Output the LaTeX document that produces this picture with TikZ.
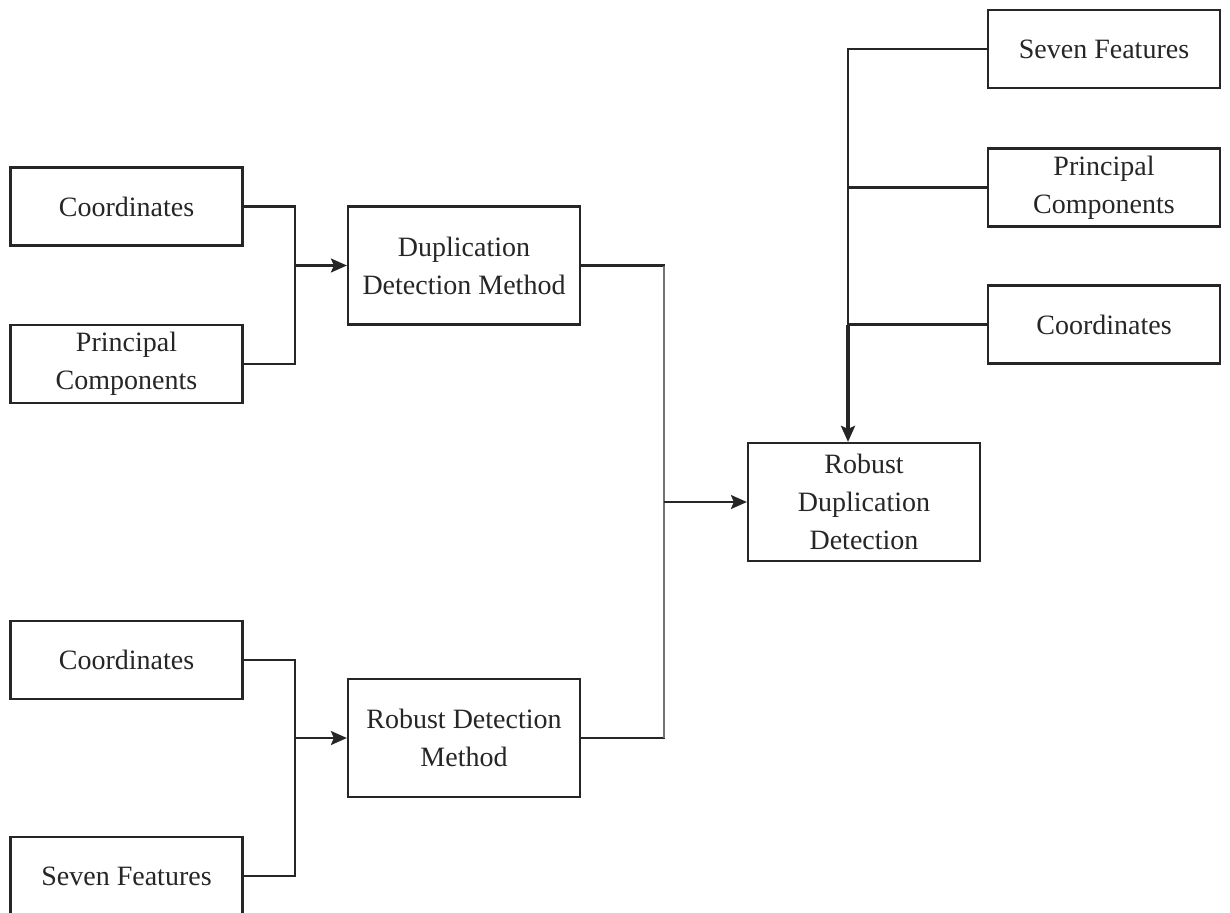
\documentclass[tikz,border=0pt]{standalone}
\usepackage{fontspec}
\setmainfont{Liberation Serif}
\usetikzlibrary{arrows.meta}
\begin{document}
\begin{tikzpicture}[x=0.5pt,y=-0.5pt,
  box/.style={draw=black!85,line width=1.1pt,fill=white,align=center,inner sep=0pt,
    text=black!85,font=\fontsize{14pt}{19pt}\selectfont},
  sbox/.style={box,minimum width=116pt,minimum height=39pt},
  bbox/.style={box,minimum width=116pt,minimum height=59pt},
  wire/.style={draw=black!85,line width=1.1pt},
  arr/.style={wire,-{Stealth[length=8pt,width=7pt,inset=1.5pt]}}]
\useasboundingbox (0,0) rectangle (1230,912);
\begin{scope}
\clip (0,0) rectangle (1230,912);
\node[sbox] (c1) at (126.5,206.5) {Coordinates};
\node[sbox] (p1) at (126.5,364) {Principal\\Components};
\node[bbox] (ddm) at (464,265.5) {Duplication\\Detection Method};
\node[sbox] (c2) at (126.5,660) {Coordinates};
\node[sbox] (s2) at (126.5,876) {Seven Features};
\node[bbox] (rdm) at (464,738) {Robust Detection\\Method};
\node[bbox] (rdd) at (864,502) {Robust\\Duplication\\Detection};
\node[sbox] (s3) at (1104,49) {Seven Features};
\node[sbox] (p3) at (1104,187.5) {Principal\\Components};
\node[sbox] (c3) at (1104,324.5) {Coordinates};

\coordinate (j1) at (295,265.5);
\coordinate (j2) at (664,502);
\coordinate (j3) at (295,738);
\coordinate (j4) at (848,324.5);

\draw[wire] (c1.east) -| (j1) |- (p1.east);
\draw[arr] (j1) -- (ddm.west);
\draw[wire] (c2.east) -| (j3) |- (s2.east);
\draw[arr] (j3) -- (rdm.west);
\draw[wire] (ddm.east) -| (j2);
\draw[wire] (j2) |- (rdm.east);
\draw[wire,draw=black!55] (ddm.east -| j2) -- (j2 |- rdm.east);
\draw[arr] (j2) -- (rdd.west);
\draw[wire] (s3.west) -| (j4);
\draw[wire] (p3.west) -- (p3.west -| j4);
\draw[wire] (c3.west) -- (j4);
\draw[arr,line width=1.8pt] (j4) -- (j4 |- rdd.north);
\end{scope}
\end{tikzpicture}
\end{document}
